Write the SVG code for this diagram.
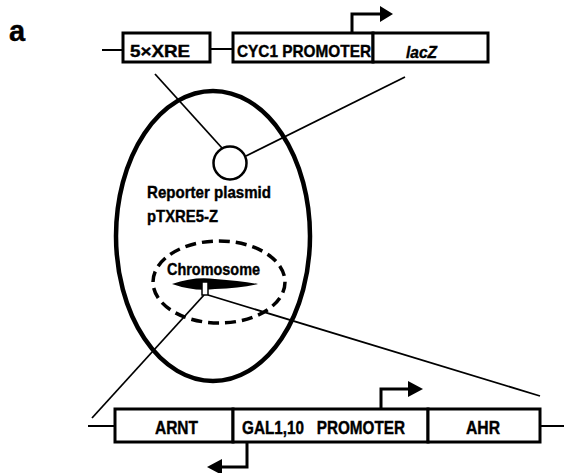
<svg xmlns="http://www.w3.org/2000/svg" width="564" height="473" viewBox="0 0 564 473">
<style>
text{font-family:"Liberation Sans",Arial,sans-serif;font-weight:bold;fill:#000;stroke:#000;stroke-width:0.4}
.box{fill:#fff;stroke:#000;stroke-width:3}
.ln{fill:none;stroke:#000;stroke-width:2}
.thin{fill:none;stroke:#000;stroke-width:1.8}
.arr{fill:none;stroke:#000;stroke-width:3}
.head{fill:#000;stroke:none}
</style>
<rect width="564" height="473" fill="#fff"/>
<text x="9" y="41" font-size="29" stroke-width="0.6">a</text>

<g id="connectors">
<line class="thin" x1="155" y1="74" x2="222" y2="148"/>
<line class="thin" x1="405" y1="77" x2="246" y2="156"/>
<line class="thin" x1="204" y1="295" x2="92" y2="418"/>
<line class="thin" x1="208" y1="295" x2="540" y2="396"/>
<line class="ln" x1="102" y1="50" x2="123" y2="50"/>
<line class="ln" x1="210" y1="49" x2="233" y2="49"/>
<line class="ln" x1="88" y1="426" x2="115" y2="426"/>
<line class="ln" x1="540" y1="426" x2="564" y2="426"/>
</g>

<g id="cell">
<ellipse cx="213" cy="236" rx="97" ry="145" fill="none" stroke="#000" stroke-width="4.5"/>
</g>

<g id="plasmid">
<circle cx="230" cy="163" r="16.5" fill="#fff" stroke="#000" stroke-width="2.5"/>
<text x="147" y="198" font-size="17" textLength="124" lengthAdjust="spacingAndGlyphs">Reporter plasmid</text>
<text x="147" y="222" font-size="17" textLength="71" lengthAdjust="spacingAndGlyphs">pTXRE5-Z</text>
</g>

<g id="chromosome">
<ellipse cx="219" cy="282" rx="66" ry="41" fill="none" stroke="#000" stroke-width="3.5" stroke-dasharray="11,6"/>
<text x="167" y="275" font-size="17" textLength="93" lengthAdjust="spacingAndGlyphs">Chromosome</text>
<path d="M172,284 Q195,276 215,279 Q240,281 258,284 Q240,288 215,289 Q195,292 172,284 Z" fill="#000"/>
<rect x="202" y="282" width="6" height="13" fill="#fff" stroke="#000" stroke-width="1.5"/>
</g>

<g id="box-xre">
<rect class="box" x="123" y="33" width="87" height="29"/>
<text x="130" y="57" font-size="17" textLength="60" lengthAdjust="spacingAndGlyphs">5×XRE</text>
</g>
<g id="box-cyc1">
<rect class="box" x="233" y="33" width="140" height="29"/>
<text x="237" y="57" font-size="17" textLength="134" lengthAdjust="spacingAndGlyphs">CYC1 PROMOTER</text>
</g>
<g id="box-lacz">
<rect class="box" x="373" y="33" width="115" height="29"/>
<text x="406" y="58" font-size="17" font-style="italic" textLength="31" lengthAdjust="spacingAndGlyphs">lacZ</text>
</g>
<g id="arrow-cyc1">
<path class="arr" d="M352,33 V14 H382"/>
<polygon class="head" points="380,6 393,14 380,22"/>
</g>

<g id="box-arnt">
<rect class="box" x="115" y="409" width="118" height="33"/>
<text x="155" y="434" font-size="18" textLength="43" lengthAdjust="spacingAndGlyphs">ARNT</text>
</g>
<g id="box-gal">
<rect class="box" x="233" y="409" width="195" height="33"/>
<text x="242" y="434" font-size="18" textLength="163" lengthAdjust="spacingAndGlyphs">GAL1,10&#160;&#160; PROMOTER</text>
</g>
<g id="box-ahr">
<rect class="box" x="428" y="409" width="112" height="33"/>
<text x="466" y="434" font-size="18" textLength="34" lengthAdjust="spacingAndGlyphs">AHR</text>
</g>
<g id="arrow-ahr">
<path class="arr" d="M381,409 V389 H410"/>
<polygon class="head" points="408,381 423,389 408,397"/>
</g>
<g id="arrow-arnt">
<path class="arr" d="M247,442 V467 H220"/>
<polygon class="head" points="222,459 207,467 222,475"/>
</g>
</svg>
